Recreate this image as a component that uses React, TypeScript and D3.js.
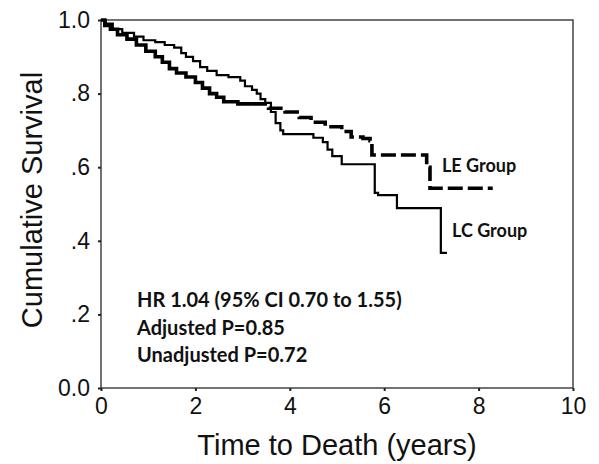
import React, { useRef, useEffect } from "react";
import * as d3 from "d3";

// LE group (thick line, dashed after ~3.2 years)
const leTime = [0, 0.08, 0.2, 0.35, 0.55, 0.75, 0.95, 1.15, 1.3, 1.45, 1.6, 1.8, 2.0, 2.15, 2.3, 2.45, 2.6, 2.9, 3.55, 3.9, 4.2, 4.45, 4.75, 5.1, 5.3, 5.55, 5.7, 5.74, 6.9, 6.97, 8.3];
const leSurv = [1.0, 0.985, 0.975, 0.96, 0.948, 0.932, 0.915, 0.9, 0.885, 0.868, 0.856, 0.845, 0.83, 0.815, 0.8, 0.79, 0.778, 0.772, 0.76, 0.75, 0.735, 0.722, 0.71, 0.697, 0.682, 0.678, 0.672, 0.633, 0.6, 0.543, 0.543];
const leDashFrom = 3.2;

// LC group (thin solid line)
const lcTime = [0, 0.1, 0.25, 0.45, 0.7, 0.9, 1.15, 1.35, 1.55, 1.7, 1.8, 1.95, 2.1, 2.25, 2.45, 2.7, 2.95, 3.05, 3.2, 3.3, 3.38, 3.48, 3.6, 3.7, 3.8, 3.86, 4.5, 4.7, 4.8, 4.9, 5.1, 5.8, 5.87, 6.27, 7.2, 7.33];
const lcSurv = [1.0, 0.99, 0.975, 0.965, 0.955, 0.945, 0.94, 0.932, 0.925, 0.91, 0.9, 0.888, 0.872, 0.862, 0.85, 0.845, 0.835, 0.82, 0.81, 0.8, 0.785, 0.775, 0.75, 0.72, 0.7, 0.69, 0.68, 0.668, 0.648, 0.63, 0.608, 0.53, 0.524, 0.489, 0.367, 0.367];

const xTicks = [0, 2, 4, 6, 8, 10];
const yTicks = [0, 0.2, 0.4, 0.6, 0.8, 1.0];
const yTickLabels = ["0.0", ".2", ".4", ".6", ".8", "1.0"];
const notes = ["HR 1.04 (95% CI 0.70 to 1.55)", "Adjusted P=0.85", "Unadjusted P=0.72"];

function SurvivalChart() {
  const ref = useRef<SVGSVGElement>(null);

  useEffect(() => {
    const width = 599;
    const height = 464;
    const left = 101, right = 573, top = 20, bottom = 388;

    const svg = d3.select(ref.current);
    svg.selectAll("*").remove();

    const x = d3.scaleLinear().domain([0, 10]).range([left, right]);
    const y = d3.scaleLinear().domain([0, 1]).range([bottom, top]);

    svg.append("rect").attr("width", width).attr("height", height).attr("fill", "#fff");

    // frame
    svg.append("rect")
      .attr("x", left).attr("y", top)
      .attr("width", right - left).attr("height", bottom - top)
      .attr("fill", "none").attr("stroke", "#444").attr("stroke-width", 1.5);

    const axisFont = "'Liberation Sans', Arial, sans-serif";

    const xAxis = svg.append("g")
      .attr("transform", `translate(0,${bottom})`)
      .call(d3.axisBottom(x).tickValues(xTicks).tickSize(3).tickPadding(7).tickFormat(d3.format("d")));
    xAxis.select(".domain").remove();
    xAxis.selectAll("text").attr("font-family", axisFont).attr("font-size", 23).attr("fill", "#111");
    xAxis.selectAll("line").attr("stroke", "#222").attr("stroke-width", 2);

    const yAxis = svg.append("g")
      .attr("transform", `translate(${left},0)`)
      .call(d3.axisLeft(y).tickValues(yTicks).tickSize(3).tickPadding(8)
        .tickFormat((d, i) => yTickLabels[i]));
    yAxis.select(".domain").remove();
    yAxis.selectAll("text").attr("font-family", axisFont).attr("font-size", 23).attr("fill", "#111");
    yAxis.selectAll("line").attr("stroke", "#222").attr("stroke-width", 2);

    // axis titles
    svg.append("text")
      .attr("x", (left + right) / 2).attr("y", 455)
      .attr("text-anchor", "middle")
      .attr("font-family", axisFont).attr("font-size", 29).attr("fill", "#111")
      .text("Time to Death (years)");

    svg.append("text")
      .attr("transform", `translate(42,${(top + bottom) / 2 - 4}) rotate(-90)`)
      .attr("text-anchor", "middle")
      .attr("font-family", axisFont).attr("font-size", 29).attr("fill", "#111")
      .text("Cumulative Survival");

    const line = d3.line<[number, number]>()
      .x((d) => x(d[0]))
      .y((d) => y(d[1]))
      .curve(d3.curveStepAfter);

    const lc: [number, number][] = lcTime.map((t, i) => [t, lcSurv[i]]);
    const le: [number, number][] = leTime.map((t, i) => [t, leSurv[i]]);

    svg.append("path")
      .datum(lc)
      .attr("fill", "none").attr("stroke", "#000").attr("stroke-width", 2.2)
      .attr("d", line);

    // LE: solid early part, dashed afterwards
    const cut = leTime.findIndex((t) => t > leDashFrom);
    const leSolid = le.slice(0, cut);
    leSolid.push([leDashFrom, leSurv[cut - 1]]);
    const leDash: [number, number][] = [[leDashFrom, leSurv[cut - 1]], ...le.slice(cut)];

    svg.append("path")
      .datum(leSolid)
      .attr("fill", "none").attr("stroke", "#000").attr("stroke-width", 3.6)
      .attr("d", line);

    svg.append("path")
      .datum(leDash)
      .attr("fill", "none").attr("stroke", "#000").attr("stroke-width", 3.6)
      .attr("stroke-dasharray", "15,5")
      .attr("d", line);

    const labelFont = "Lato, 'Open Sans', sans-serif";

    svg.append("text")
      .attr("x", 442).attr("y", 172)
      .attr("font-family", labelFont).attr("font-weight", 700).attr("font-size", 18).attr("fill", "#111")
      .text("LE Group");

    svg.append("text")
      .attr("x", 452).attr("y", 237)
      .attr("font-family", labelFont).attr("font-weight", 700).attr("font-size", 18).attr("fill", "#111")
      .text("LC Group");

    svg.selectAll("text.note")
      .data(notes)
      .enter()
      .append("text")
      .attr("class", "note")
      .attr("x", 137)
      .attr("y", (d, i) => 307 + i * 27.5)
      .attr("font-family", labelFont).attr("font-weight", 700).attr("font-size", 20).attr("fill", "#111")
      .text((d) => d);
  }, []);

  return (
    <svg
      ref={ref}
      width={599}
      height={464}
      style={{ position: "absolute", left: 0, top: 0, display: "block" }}
    />
  );
}

export default function App() {
  return <SurvivalChart />;
}
